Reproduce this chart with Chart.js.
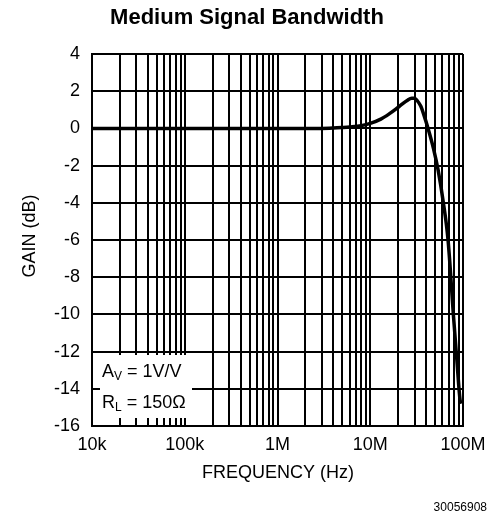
<!DOCTYPE html>
<html>
<head>
<meta charset="utf-8">
<script src="https://cdn.jsdelivr.net/npm/chart.js@4/dist/chart.umd.min.js"></script>
<style>
  html, body { margin: 0; padding: 0; background: #fff; }
  #wrap { width: 489px; height: 518px; position: relative; }
</style>
</head>
<body>
<div id="wrap"><canvas id="myChart"></canvas></div>
<script>
// frequency (Hz) and gain (dB)
var freq = [1e4, 2e4, 5e4, 1e5, 2e5, 5e5, 1e6, 2e6, 3e6, 4e6, 5e6, 6e6, 8e6, 1e7, 1.3e7, 1.6e7, 1.9e7, 2.2e7, 2.5e7, 2.8e7, 3e7, 3.2e7, 3.5e7, 3.8e7, 4.2e7, 4.8e7, 5.4e7, 6.1e7, 6.9e7, 7.9e7, 8.6e7, 9.3e7, 9.6e7];
var gain = [0, 0, 0, 0, 0, 0, 0, 0, 0, 0.02, 0.05, 0.08, 0.15, 0.27, 0.5, 0.78, 1.05, 1.3, 1.5, 1.62, 1.62, 1.5, 1.2, 0.7, 0, -1.07, -2.26, -3.9, -6, -10.1, -12.5, -14.6, -14.8];

// labels along the x-axis (decades only)
var xTickValues = [1e4, 1e5, 1e6, 1e7, 1e8];
var xTickLabels = ["10k", "100k", "1M", "10M", "100M"];

var FONT = "'Liberation Sans', Arial, sans-serif";

// title, axis titles, the conditions box and the figure number
var textPlugin = {
  id: 'texts',
  beforeDatasetsDraw: function(chart) {
    var c = chart.ctx;
    c.save();
    // white box over the grid, lower left
    c.fillStyle = '#fff';
    c.fillRect(100, 355, 92, 63);
    c.fillStyle = '#000';
    c.textBaseline = 'middle';
    c.textAlign = 'left';
    c.font = '18px ' + FONT;
    c.fillText('A', 102, 372);
    var w = c.measureText('A').width;
    c.font = '12px ' + FONT;
    c.fillText('V', 102 + w, 377);
    var w2 = c.measureText('V').width;
    c.font = '18px ' + FONT;
    c.fillText(' = 1V/V', 102 + w + w2, 372);

    c.fillText('R', 102, 403);
    w = c.measureText('R').width;
    c.font = '12px ' + FONT;
    c.fillText('L', 102 + w, 408);
    w2 = c.measureText('L').width;
    c.font = '18px ' + FONT;
    c.fillText(' = 150\u03A9', 102 + w + w2, 403);
    c.restore();
  },
  afterDraw: function(chart) {
    var c = chart.ctx;
    c.save();
    c.fillStyle = '#000';
    c.textBaseline = 'middle';
    c.textAlign = 'center';
    c.font = 'bold 22px ' + FONT;
    c.fillText('Medium Signal Bandwidth', 247, 18);
    c.font = '18px ' + FONT;
    c.fillText('FREQUENCY (Hz)', 278, 473);
    c.save();
    c.translate(30, 236);
    c.rotate(-Math.PI / 2);
    c.fillText('GAIN (dB)', 0, 0);
    c.restore();
    c.textAlign = 'right';
    c.font = '12px ' + FONT;
    c.fillText('30056908', 487, 508);
    c.restore();
  }
};

var ctx = document.getElementById("myChart");
var myChart = new Chart(ctx, {
  type: 'line',
  data: {
    datasets: [
      {
        data: freq.map(function(f, i) { return { x: f, y: gain[i] }; }),
        borderColor: "#000",
        borderWidth: 3.5,
        pointRadius: 0,
        cubicInterpolationMode: 'monotone',
        fill: false
      }
    ]
  },
  options: {
    responsive: true,
    maintainAspectRatio: false,
    animation: false,
    layout: { padding: { top: 54, right: 26, bottom: 0, left: 0 } },
    plugins: {
      legend: { display: false },
      tooltip: { enabled: false }
    },
    scales: {
      x: {
        type: 'logarithmic',
        min: 1e4,
        max: 1e8,
        afterFit: function(scale) {
          scale.height = 92;
          // let the end labels hang past the plot edge
          scale.paddingLeft = 0;
          scale.paddingRight = 0;
        },
        afterBuildTicks: function(scale) {
          var t = [];
          for (var d = 1e4; d < 1e8; d *= 10) {
            for (var k = 1; k < 10; k++) t.push({ value: d * k });
          }
          t.push({ value: 1e8 });
          scale.ticks = t;
        },
        grid: { color: '#000', lineWidth: 2, drawTicks: false },
        border: { display: true, color: '#000', width: 2 },
        ticks: {
          autoSkip: false,
          maxRotation: 0,
          padding: 8,
          color: '#000',
          font: { family: FONT, size: 18 },
          callback: function(value) {
            var i = xTickValues.indexOf(value);
            return i >= 0 ? xTickLabels[i] : '';
          }
        }
      },
      y: {
        min: -16,
        max: 4,
        afterFit: function(scale) { scale.width = 92; },
        grid: { color: '#000', lineWidth: 2, drawTicks: false },
        border: { display: true, color: '#000', width: 2 },
        ticks: {
          stepSize: 2,
          padding: 12,
          color: '#000',
          font: { family: FONT, size: 18 }
        }
      }
    }
  },
  plugins: [textPlugin]
});
</script>
</body>
</html>
